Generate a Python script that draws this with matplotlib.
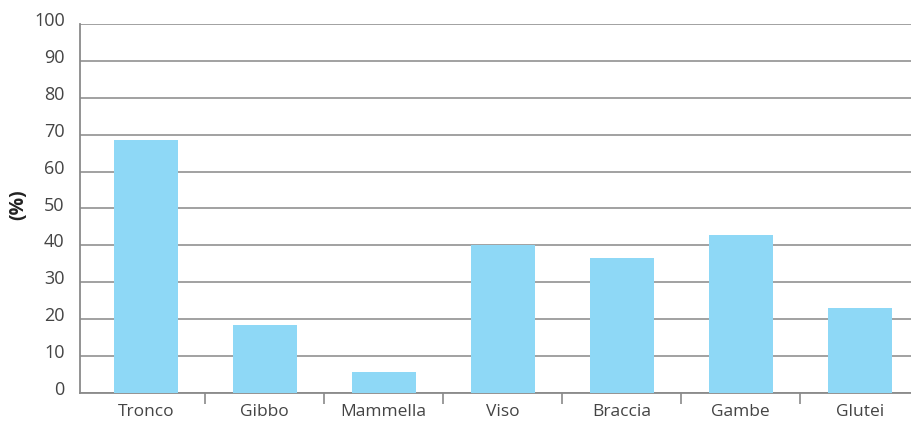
import matplotlib
matplotlib.use("Agg")
import matplotlib.pyplot as plt
import matplotlib.transforms as mtransforms
import numpy as np

categories = ["Tronco", "Gibbo", "Mammella", "Viso", "Braccia", "Gambe", "Glutei"]
values = [68.5, 18.4, 5.7, 40.2, 36.6, 42.8, 23.0]
yticks = [0, 10, 20, 30, 40, 50, 60, 70, 80, 90, 100]

plt.rcParams['font.family'] = ['Open Sans', 'DejaVu Sans']

fig = plt.figure(figsize=(9.11, 4.23), dpi=100)
W, H = 911, 423
ax = fig.add_axes([80 / W, 30 / H, (W - 80) / W, (393 - 24) / H])

x = np.arange(len(categories))
ax.bar(x, values, width=0.54, color="#8ED8F6", zorder=3)

ax.set_ylim(0, 100)
ax.set_xlim(-0.552, 6.43)
ax.set_yticks(yticks)
ax.set_yticklabels([str(v) for v in yticks], fontsize=13, color="#444444")
ax.tick_params(axis="y", length=0, pad=11)
offset = mtransforms.ScaledTranslation(0, 5 / 100, fig.dpi_scale_trans)
for lbl in ax.get_yticklabels():
    lbl.set_transform(lbl.get_transform() + offset)
ax.yaxis.grid(True, color="#9a9a9a", linewidth=1.3, zorder=0)
ax.set_axisbelow(True)

ax.set_xticks(x)
ax.set_xticklabels(categories, fontsize=12.5, color="#444444")
ax.tick_params(axis="x", length=0, pad=8)
ax.set_xticks(x[:-1] + 0.5, minor=True)
ax.tick_params(axis="x", which="minor", length=8, width=1.2, color="#8a8a8a")

for s in ["top", "right"]:
    ax.spines[s].set_visible(False)
for s in ["left", "bottom"]:
    ax.spines[s].set_color("#8a8a8a")
    ax.spines[s].set_linewidth(1.3)

ax.set_ylabel("(%)", fontsize=14, fontweight="bold", color="#222222")
ax.yaxis.set_label_coords((28 - 80) / (W - 80), 0.51)

fig.savefig("out.png", dpi=100)
